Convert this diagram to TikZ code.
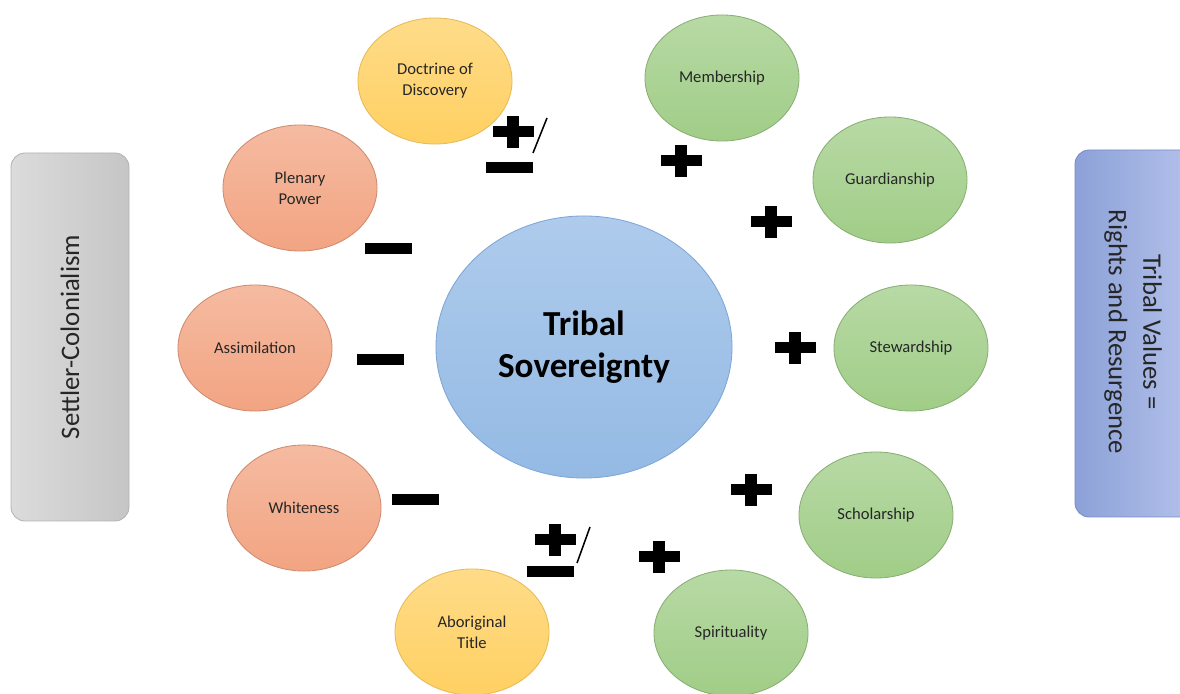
\documentclass[tikz,border=0pt]{standalone}
\usepackage{fontspec}
\setmainfont{Carlito}
\usetikzlibrary{shapes.geometric}

\definecolor{txt}{HTML}{262626}
\definecolor{lawyellow}{RGB}{255,208,98}
\definecolor{settlerorange}{RGB}{242,164,130}
\definecolor{tribalgreen}{RGB}{160,205,135}
\definecolor{sovtop}{RGB}{174,203,236}
\definecolor{sovbottom}{RGB}{148,186,228}
\definecolor{sovline}{RGB}{125,165,215}
\definecolor{valuesleft}{RGB}{140,161,216}
\definecolor{valuesright}{RGB}{182,195,235}
\definecolor{valuesline}{RGB}{120,140,200}

\tikzset{
  pics/plusmark/.style = {code = {
    \fill (-20.5,-5.5) rectangle (20.5,5.5);
    \fill (-6,-16) rectangle (6,16);
  }},
  pics/minusmark/.style = {code = {
    \fill (-23.5,-5.5) rectangle (23.5,5.5);
  }},
}

\begin{document}
\begin{tikzpicture}[x=0.025cm, y=-0.025cm,
  bubble/.style = {ellipse, minimum width=3.85cm, minimum height=3.15cm, inner sep=0pt,
    align=center, text=txt, font=\fontsize{11.8}{15}\selectfont, line width=0.6pt},
  settler/.style = {bubble, top color=settlerorange!75!white, bottom color=settlerorange, draw=settlerorange!85!black},
  tribal/.style = {bubble, top color=tribalgreen!75!white, bottom color=tribalgreen, draw=tribalgreen!85!black},
  law/.style = {bubble, top color=lawyellow!75!white, bottom color=lawyellow, draw=lawyellow!90!black},
  sidebox/.style = {rounded corners=10pt, line width=0.6pt},
]
\useasboundingbox (0,0) rectangle (1180,694);
\clip (0,0) rectangle (1180,694);

% side boxes
\shade[sidebox, left color=gray!28, right color=gray!45, draw=gray!60]
  (11,153) rectangle (129,521);
\node[rotate=90, text=txt, font=\fontsize{19}{24}\selectfont] (colonial) at (70,337) {Settler-Colonialism};
\shade[sidebox, left color=valuesleft, right color=valuesright, draw=valuesline] (1075,150) rectangle (1200,517);
\node[rotate=-90, align=center, text=txt, font=\fontsize{19}{24.5}\selectfont] (values) at (1133,332)
  {Tribal Values =\\Rights and Resurgence};

% centre
\node[ellipse, minimum width=7.4cm, minimum height=6.55cm, inner sep=0pt, align=center,
  top color=sovtop, bottom color=sovbottom, draw=sovline, line width=0.6pt, text=black,
  font=\fontsize{25}{29.5}\selectfont\bfseries] (sov) at (584,347) {Tribal\\Sovereignty};

% colonial doctrines
\node[law] (doctrine) at (435,81) {Doctrine of\\Discovery};
\node[settler] (plenary) at (300,188) {Plenary\\Power};
\node[settler] (assim) at (255,348) {Assimilation};
\node[settler] (white) at (304,508) {Whiteness};
\node[law] (title) at (472,632) {Aboriginal\\Title};

% tribal values
\node[tribal] (member) at (722,78) {Membership};
\node[tribal] (guard) at (890,180) {Guardianship};
\node[tribal] (steward) at (911,348) {Stewardship};
\node[tribal] (scholar) at (876,515) {Scholarship};
\node[tribal] (spirit) at (731,633) {Spirituality};

% signs
\pic at (681,161) {plusmark};
\pic at (771,222) {plusmark};
\pic at (795,348) {plusmark};
\pic at (751,490) {plusmark};
\pic at (659,557) {plusmark};
\pic at (388,248.5) {minusmark};
\pic at (380.5,360) {minusmark};
\pic at (415,500) {minusmark};
% plus-or-minus marks
\pic at (513,132) {plusmark};
\pic at (509.5,167.5) {minusmark};
\draw[line width=1.1pt] (533,153) -- (547,118);
\pic at (555,540) {plusmark};
\pic at (550,571.5) {minusmark};
\draw[line width=1.1pt] (577,563) -- (590,527);
\end{tikzpicture}
\end{document}
